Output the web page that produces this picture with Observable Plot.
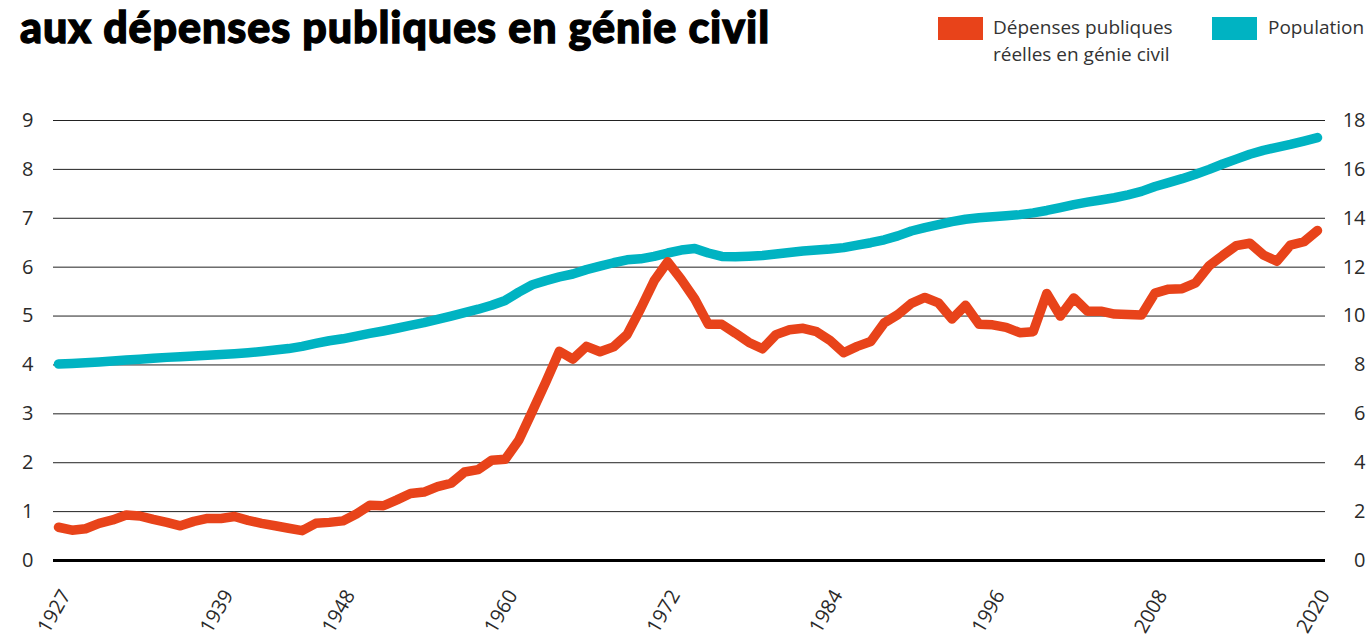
<!DOCTYPE html>
<html><head><meta charset="utf-8">
<script src="https://cdn.jsdelivr.net/npm/d3@7"></script>
<script src="https://cdn.jsdelivr.net/npm/@observablehq/plot@0.6"></script>
<style>
html,body{margin:0;padding:0;background:#fff;}
body{width:1370px;height:635px;overflow:hidden;font-family:"Open Sans",sans-serif;}
#header{position:relative;height:75px;width:1370px;}
#title{position:absolute;left:20px;top:5px;font-family:"Lato","Noto Sans",sans-serif;font-weight:900;font-size:43px;line-height:44px;white-space:nowrap;color:#000;-webkit-text-stroke:1.3px #000;}
.sw{position:absolute;top:17px;width:45px;height:23px;}
.lt{position:absolute;top:14px;font-size:19px;line-height:27px;color:#333;white-space:nowrap;}
#chart svg{display:block;}
</style></head>
<body>
<div id="header">
  <div id="title">aux dépenses publiques en génie civil</div>
  <div class="sw" id="sw1" style="left:938px;"></div>
  <div class="lt" id="lt1" style="left:993px;"></div>
  <div class="sw" id="sw2" style="left:1212px;"></div>
  <div class="lt" id="lt2" style="left:1268px;"></div>
</div>
<div id="chart"></div>
<script>
const seriesNames = ["Dépenses publiques\nréelles en génie civil", "Population"];
const seriesColors = ["#e8431a", "#00b3c2"];
const years = [1927,1928,1929,1930,1931,1932,1933,1934,1935,1936,1937,1938,1939,1940,1941,1942,1943,1944,1945,1946,
1947,1948,1949,1950,1951,1952,1953,1954,1955,1956,1957,1958,1959,1960,1961,1962,1963,1964,1965,1966,
1967,1968,1969,1970,1971,1972,1973,1974,1975,1976,1977,1978,1979,1980,1981,1982,1983,1984,1985,1986,
1987,1988,1989,1990,1991,1992,1993,1994,1995,1996,1997,1998,1999,2000,2001,2002,2003,2004,2005,2006,
2007,2008,2009,2010,2011,2012,2013,2014,2015,2016,2017,2018,2019,2020];
// Left axis (0–9)
const spending = [0.68,0.62,0.65,0.76,0.83,0.93,0.91,0.84,0.78,0.71,0.80,0.86,0.86,0.90,0.82,0.76,0.71,0.66,0.61,0.76,
0.78,0.81,0.95,1.13,1.12,1.24,1.37,1.40,1.51,1.58,1.81,1.86,2.05,2.07,2.46,3.05,3.65,4.28,4.12,4.38,
4.27,4.37,4.62,5.15,5.72,6.11,5.75,5.35,4.83,4.83,4.65,4.46,4.33,4.62,4.72,4.75,4.68,4.50,4.25,4.38,
4.48,4.86,5.03,5.26,5.38,5.27,4.94,5.22,4.83,4.82,4.77,4.66,4.68,5.46,5.00,5.37,5.10,5.10,5.04,5.03,
5.02,5.47,5.55,5.56,5.68,6.03,6.24,6.44,6.49,6.25,6.12,6.45,6.52,6.75];
// Right axis (0–18)
const population = [8.04,8.06,8.09,8.12,8.16,8.20,8.23,8.27,8.31,8.34,8.37,8.40,8.43,8.46,8.50,8.55,8.61,8.67,8.76,8.88,
8.99,9.07,9.18,9.29,9.39,9.50,9.62,9.73,9.86,10.00,10.14,10.28,10.44,10.64,10.98,11.28,11.45,11.60,11.72,11.90,
12.04,12.18,12.30,12.34,12.44,12.58,12.70,12.76,12.58,12.44,12.43,12.45,12.48,12.54,12.60,12.66,12.70,12.74,12.80,12.90,
13.00,13.12,13.28,13.48,13.62,13.74,13.86,13.96,14.02,14.06,14.10,14.15,14.22,14.32,14.44,14.56,14.66,14.75,14.84,14.96,
15.10,15.30,15.46,15.62,15.80,16.00,16.22,16.42,16.62,16.78,16.90,17.02,17.16,17.30];
const xTicks = [1927,1939,1948,1960,1972,1984,1996,2008,2020];
const leftTicks = [0,1,2,3,4,5,6,7,8,9];
const rightTickLabels = [0,2,4,6,8,10,12,14,16,18];

// legend
document.getElementById("sw1").style.background = seriesColors[0];
document.getElementById("sw2").style.background = seriesColors[1];
document.getElementById("lt1").innerHTML = seriesNames[0].replace("\n","<br>");
document.getElementById("lt2").textContent = seriesNames[1];

// fit title width
const t = document.getElementById("title");
const target = 750;
const w0 = t.getBoundingClientRect().width;
const n = t.textContent.length;
t.style.letterSpacing = ((target - w0) / n) + "px";

const data = years.map((year, i) => ({year, spending: spending[i], population: population[i]}));
const axisFont = {fontSize: 20, fill: "#2a2a2a"};

const chart = Plot.plot({
  width: 1370,
  height: 560,
  marginTop: 45,
  marginBottom: 75,
  marginLeft: 53,
  marginRight: 45,
  style: {fontFamily: "'Open Sans', sans-serif", background: "#fff", overflow: "visible"},
  x: {domain: [1927, 2020], insetLeft: 5, insetRight: 8},
  y: {domain: [0, 9]},
  marks: [
    Plot.ruleY(leftTicks.filter(d => d > 0), {stroke: "#222", strokeWidth: 1}),
    Plot.ruleY([0], {stroke: "#000", strokeWidth: 3}),
    Plot.axisY(leftTicks, {anchor: "left", tickSize: 0, tickPadding: 20, label: null, ...axisFont}),
    Plot.axisY(leftTicks, {anchor: "right", tickSize: 0, tickPadding: 0, dx: 40, textAnchor: "end",
      tickFormat: (d, i) => String(rightTickLabels[leftTicks.indexOf(d)]), label: null, ...axisFont}),
    Plot.axisX(xTicks, {anchor: "bottom", tickSize: 0, tickPadding: 0, tickRotate: -60, textAnchor: "middle",
      lineAnchor: "middle", dy: 51, dx: -4, tickFormat: d => String(d), label: null, ...axisFont}),
    Plot.line(data, {x: "year", y: d => d.population / 2, stroke: seriesColors[1], strokeWidth: 9.5,
      strokeLinecap: "round", strokeLinejoin: "round"}),
    Plot.line(data, {x: "year", y: "spending", stroke: seriesColors[0], strokeWidth: 9.5,
      strokeLinecap: "round", strokeLinejoin: "round"})
  ]
});
document.getElementById("chart").appendChild(chart);
</script>
</body></html>
